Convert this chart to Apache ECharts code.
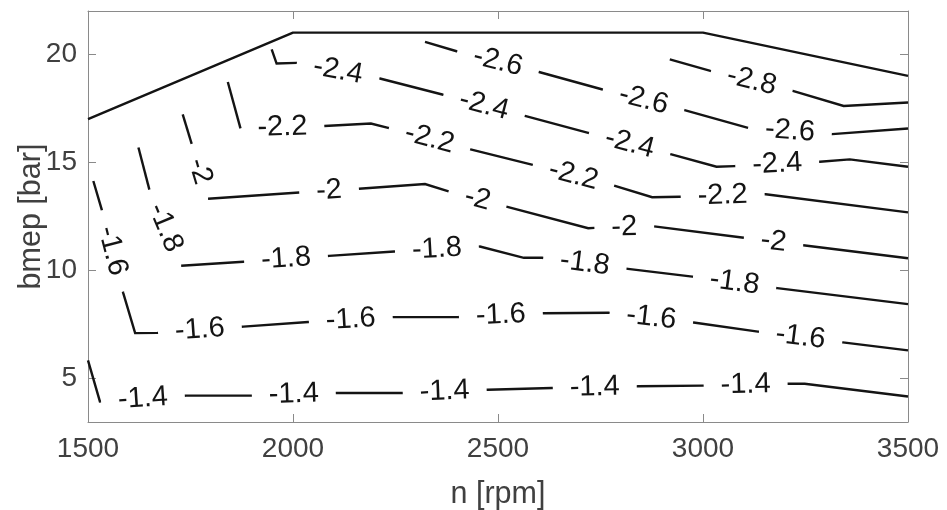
<!DOCTYPE html>
<html>
<head>
<meta charset="utf-8">
<script src="https://cdn.jsdelivr.net/npm/echarts@6/dist/echarts.min.js"></script>
<style>
  html, body { margin: 0; padding: 0; background: #fff; }
  #chart { width: 947px; height: 510px; }
</style>
</head>
<body>
<div id="chart"></div>
<script>
// Engine speed / bmep axes
const nTicks = [1500, 2000, 2500, 3000, 3500];
const bmepTicks = [5, 10, 15, 20];

// Full-load (maximum bmep) curve
const fullLoad = [[1500, 17], [2000, 21], [3000, 21], [3500, 19]];

// Iso-lines: [n rpm, bmep bar] vertices, and where each inline label sits
const levels = [-1.4, -1.6, -1.8, -2, -2.2, -2.4, -2.6, -2.8];

const iso14 = [[1500,5.85],[1529,3.95],[1739,4.22],[1897,4.22],[2107,4.34],[2266,4.34],[2475,4.49],[2631,4.57],[2841,4.65],[2999,4.68],[3209,4.77],[3248,4.77],[3500,4.18]];
const lab14 = [[1634,4.08],[2002,4.28],[2370,4.42],[2736,4.61],[3104,4.72]];

const iso16 = [[1513,14.14],[1533,12.85],[1586,8.96],[1615,7.11],[1669,7.12],[1879,7.41],[2037,7.62],[2244,7.85],[2403,7.85],[2612,8.03],[2770,8.05],[2977,7.60],[3134,7.18],[3341,6.68],[3500,6.31]];
const lab16 = [[1560,10.91],[1773,7.26],[2141,7.73],[2507,7.94],[2874,7.82],[3238,6.93]];

const iso18 = [[1623,15.69],[1651,13.65],[1722,10.22],[1879,10.41],[2088,10.68],[2247,10.88],[2456,11.11],[2563,10.59],[2608,10.59],[2817,10.08],[2974,9.72],[3181,9.19],[3500,8.45]];
const lab18 = [[1686,11.93],[1983,10.54],[2351,10.99],[2712,10.36],[3077,9.45]];

const iso20 = [[1731,17.22],[1755,15.72],[1785,13.31],[2025,13.62],[2151,13.77],[2322,14.00],[2387,13.62],[2512,13.00],[2720,11.96],[2744,11.98],[2873,12.06],[3110,11.49],[3236,11.19],[3500,10.57]];
const lab20 = [[1770,14.51],[2088,13.69],[2450,13.31],[2808,12.02],[3172,11.34]];

const iso22 = [[1841,18.72],[1872,16.57],[2075,16.68],[2190,16.80],[2232,16.60],[2433,15.60],[2586,14.88],[2782,13.93],[2876,13.39],[2943,13.41],[3153,13.53],[3500,12.69]];
const lab22 = [[1974,16.62],[2333,16.10],[2684,14.40],[3048,13.47]];

const iso24 = [[1948,20.23],[1960,19.57],[2009,19.60],[2212,18.88],[2364,18.14],[2568,17.14],[2720,16.37],[2923,15.37],[3033,14.80],[3077,14.83],[3285,15.03],[3358,15.14],[3500,14.80]];
const lab24 = [[2110,19.24],[2466,17.64],[2821,15.87],[3181,14.93]];

const iso26 = [[2322,20.57],[2399,20.14],[2600,19.18],[2755,18.37],[2955,17.42],[3110,16.60],[3315,16.31],[3500,16.57]];
const lab26 = [[2500,19.66],[2855,17.89],[3212,16.45]];

const iso28 = [[2919,19.76],[3018,19.23],[3219,18.31],[3343,17.61],[3500,17.77]];
const lab28 = [[3119,18.77]];

const isoPaths = [iso14, iso16, iso18, iso20, iso22, iso24, iso26, iso28];
const isoLabels = [lab14, lab16, lab18, lab20, lab22, lab24, lab26, lab28];

const FONT = '"Liberation Sans", Arial, Helvetica, sans-serif';
const LINE_COLOR = '#141414';
const LINE_WIDTH = 2.4;
const LABEL_SIZE = 29;
const LABEL_PAD = 17;

const measureCtx = document.createElement('canvas').getContext('2d');
function textWidth(t) {
  measureCtx.font = LABEL_SIZE + 'px ' + FONT;
  return measureCtx.measureText(t).width;
}

// Draws one iso-line with gaps cut where its labels go (clabel-style)
function renderIso(params, api) {
  const idx = api.value(2);
  const pts = isoPaths[idx].map(p => api.coord(p));
  const text = String(levels[idx]);
  const half = textWidth(text) / 2 + LABEL_PAD;

  const cum = [0];
  for (let k = 1; k < pts.length; k++) {
    cum.push(cum[k - 1] + Math.hypot(pts[k][0] - pts[k - 1][0], pts[k][1] - pts[k - 1][1]));
  }
  const L = cum[cum.length - 1];

  function pointAt(s) {
    s = Math.max(0, Math.min(L, s));
    for (let k = 0; k < pts.length - 1; k++) {
      if (s <= cum[k + 1] || k === pts.length - 2) {
        const seg = cum[k + 1] - cum[k];
        const t = seg > 0 ? (s - cum[k]) / seg : 0;
        return [pts[k][0] + t * (pts[k + 1][0] - pts[k][0]), pts[k][1] + t * (pts[k + 1][1] - pts[k][1])];
      }
    }
    return pts[pts.length - 1];
  }

  function project(q) {
    let best = Infinity, bestS = 0;
    for (let k = 0; k < pts.length - 1; k++) {
      const ax = pts[k][0], ay = pts[k][1];
      const dx = pts[k + 1][0] - ax, dy = pts[k + 1][1] - ay;
      const len2 = dx * dx + dy * dy;
      let t = len2 > 0 ? ((q[0] - ax) * dx + (q[1] - ay) * dy) / len2 : 0;
      t = Math.max(0, Math.min(1, t));
      const px = ax + t * dx, py = ay + t * dy;
      const d = Math.hypot(q[0] - px, q[1] - py);
      if (d < best) { best = d; bestS = cum[k] + t * Math.sqrt(len2); }
    }
    return bestS;
  }

  const gaps = isoLabels[idx].map(a => {
    const s = project(api.coord(a));
    return [s - half, s + half];
  }).sort((a, b) => a[0] - b[0]);

  const children = [];
  const style = { stroke: LINE_COLOR, lineWidth: LINE_WIDTH, fill: null, lineJoin: 'miter' };

  let start = 0;
  const spans = [];
  gaps.forEach(g => {
    if (g[0] > start) spans.push([start, g[0]]);
    start = Math.max(start, g[1]);
  });
  if (start < L) spans.push([start, L]);

  spans.forEach(sp => {
    const line = [pointAt(sp[0])];
    for (let k = 0; k < pts.length; k++) {
      if (cum[k] > sp[0] && cum[k] < sp[1]) line.push(pts[k]);
    }
    line.push(pointAt(sp[1]));
    children.push({ type: 'polyline', shape: { points: line }, style: style });
  });

  gaps.forEach(g => {
    let p0 = pointAt(g[0]), p1 = pointAt(g[1]);
    if (p1[0] < p0[0]) { const t = p0; p0 = p1; p1 = t; }
    const ang = Math.atan2(p1[1] - p0[1], p1[0] - p0[0]);
    children.push({
      type: 'text',
      x: (p0[0] + p1[0]) / 2,
      y: (p0[1] + p1[1]) / 2,
      rotation: -ang,
      style: {
        text: text,
        fontSize: LABEL_SIZE,
        fontFamily: FONT,
        fill: LINE_COLOR,
        align: 'center',
        verticalAlign: 'middle',
        textAlign: 'center',
        textVerticalAlign: 'middle'
      }
    });
  });

  return { type: 'group', children: children };
}

const AXIS_COLOR = '#8a8a8a';
const TEXT_COLOR = '#404040';
const plain = v => String(v);

const chart = echarts.init(document.getElementById('chart'), null, { renderer: 'canvas' });

const innerX = nTicks.slice(1, -1);

chart.setOption({
  animation: false,
  backgroundColor: '#ffffff',
  grid: { left: 88, right: 39, top: 11, bottom: 88, containLabel: false, outerBoundsMode: 'none', show: false },
  xAxis: [
    {
      type: 'value', min: 1500, max: 3500, position: 'bottom',
      name: 'n [rpm]', nameLocation: 'middle', nameGap: 57, nameMoveOverlap: false,
      nameTextStyle: { fontSize: 30.5, fontFamily: FONT, color: TEXT_COLOR },
      axisLine: { show: true, onZero: false, lineStyle: { color: AXIS_COLOR, width: 1 } },
      axisTick: { show: true, inside: true, length: 8, customValues: innerX, lineStyle: { color: AXIS_COLOR } },
      axisLabel: { show: true, customValues: nTicks, formatter: plain, margin: 13, fontSize: 28, fontFamily: FONT, color: TEXT_COLOR,
                   showMinLabel: true, showMaxLabel: true },
      splitLine: { show: false }
    },
    {
      type: 'value', min: 1500, max: 3500, position: 'top',
      axisLine: { show: true, onZero: false, lineStyle: { color: AXIS_COLOR, width: 1 } },
      axisTick: { show: true, inside: true, length: 8, customValues: innerX, lineStyle: { color: AXIS_COLOR } },
      axisLabel: { show: false },
      splitLine: { show: false }
    }
  ],
  yAxis: [
    {
      type: 'value', min: 3, max: 22, position: 'left',
      name: 'bmep [bar]', nameLocation: 'middle', nameGap: 41, nameRotate: 90, nameMoveOverlap: false,
      nameTextStyle: { fontSize: 30.5, fontFamily: FONT, color: TEXT_COLOR },
      axisLine: { show: true, onZero: false, lineStyle: { color: AXIS_COLOR, width: 1 } },
      axisTick: { show: true, inside: true, length: 8, customValues: bmepTicks, lineStyle: { color: AXIS_COLOR } },
      axisLabel: { show: true, customValues: bmepTicks, formatter: plain, margin: 11, fontSize: 28, fontFamily: FONT, color: TEXT_COLOR },
      splitLine: { show: false }
    },
    {
      type: 'value', min: 3, max: 22, position: 'right',
      axisLine: { show: true, onZero: false, lineStyle: { color: AXIS_COLOR, width: 1 } },
      axisTick: { show: true, inside: true, length: 8, customValues: bmepTicks, lineStyle: { color: AXIS_COLOR } },
      axisLabel: { show: false },
      splitLine: { show: false }
    }
  ],
  series: [
    {
      type: 'line', xAxisIndex: 0, yAxisIndex: 0,
      data: fullLoad, showSymbol: false, symbol: 'none',
      lineStyle: { color: LINE_COLOR, width: LINE_WIDTH },
      silent: true, z: 3
    },
    {
      type: 'custom', xAxisIndex: 0, yAxisIndex: 0,
      coordinateSystem: 'cartesian2d',
      data: levels.map((v, i) => [2500, 12, i]),
      encode: { x: 0, y: 1 },
      renderItem: renderIso,
      silent: true, z: 2
    }
  ]
});
</script>
</body>
</html>
